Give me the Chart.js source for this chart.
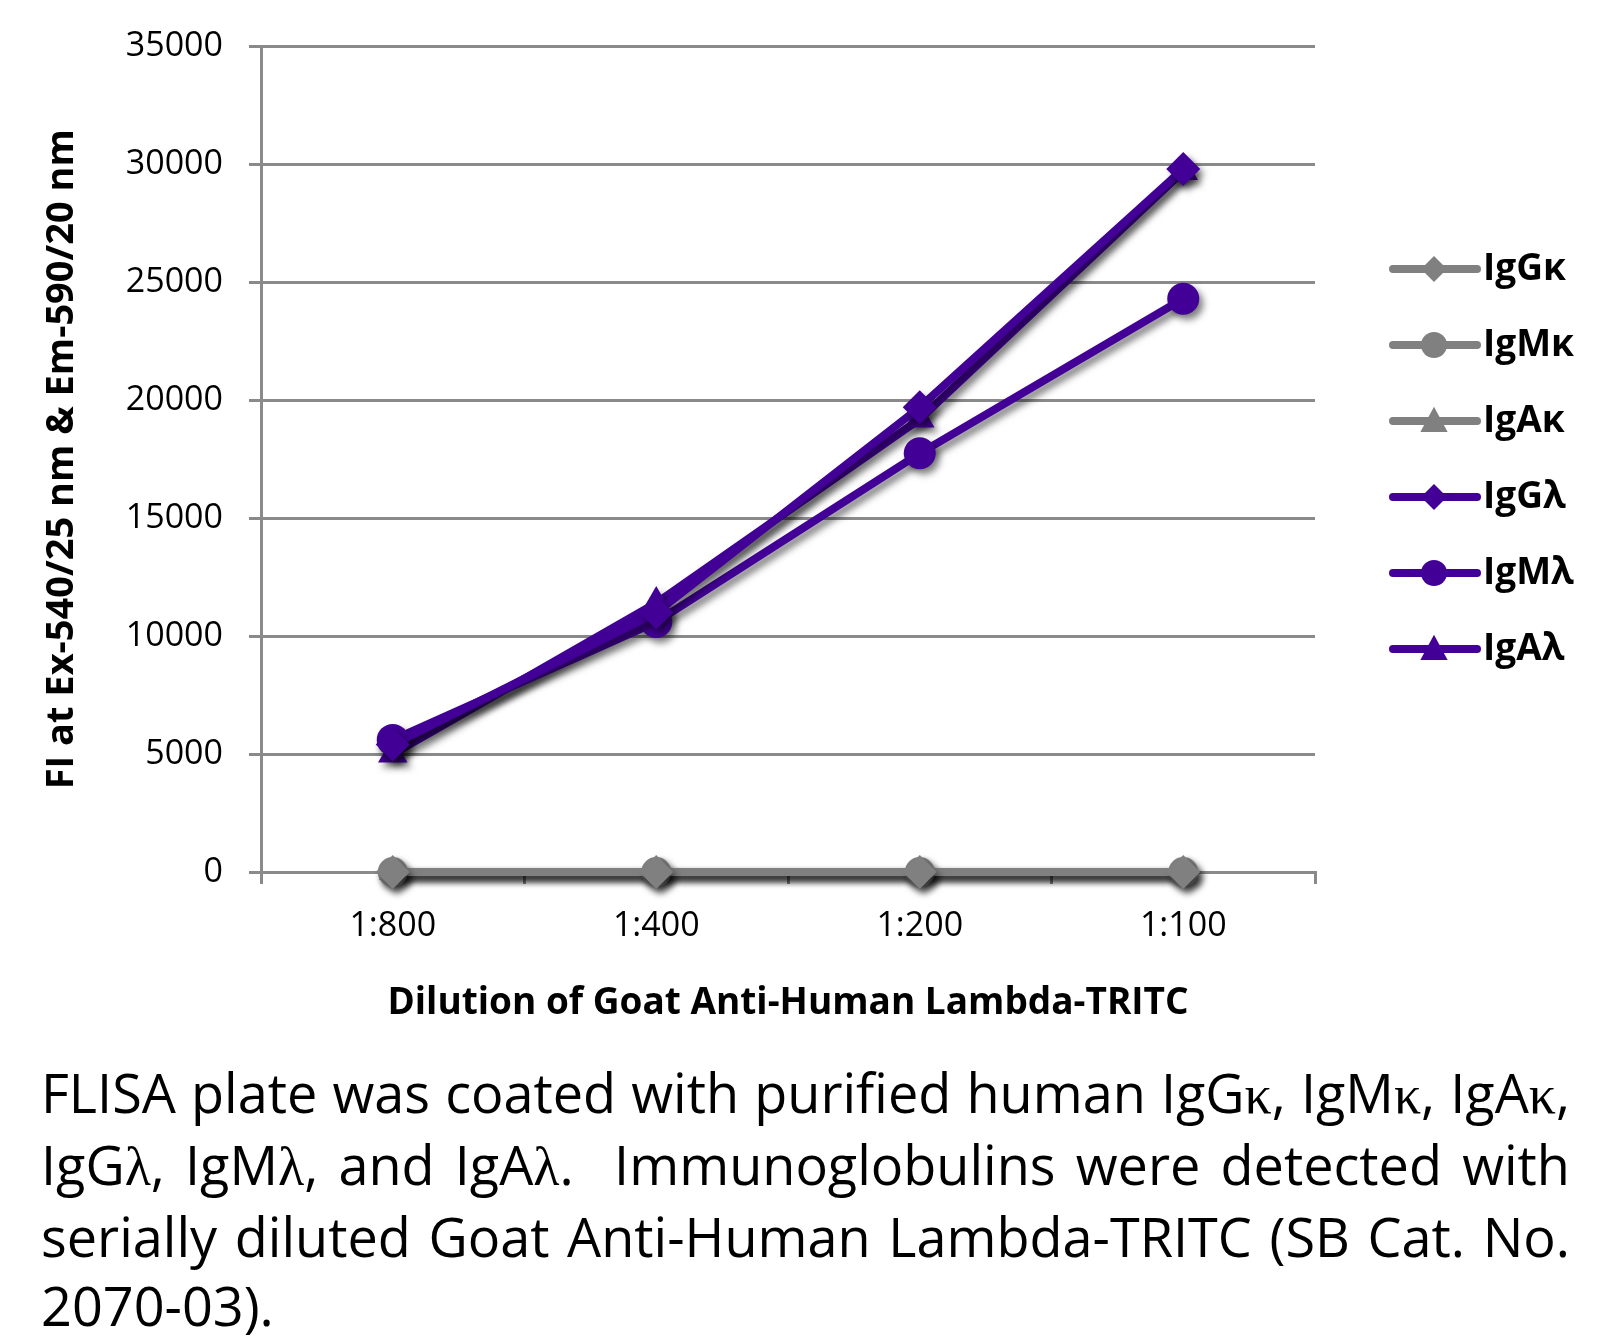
<!DOCTYPE html>
<html>
<head>
<meta charset="utf-8">
<script src="https://cdn.jsdelivr.net/npm/chart.js@4.4.0/dist/chart.umd.min.js"></script>
<style>
  body { margin: 0; background: #fff; font-family: "Open Sans", sans-serif; }
  #wrap { position: relative; width: 1604px; height: 1040px; }
  #caption { position: absolute; left: 41px; top: 1058px; width: 1529px; font-size: 54px; line-height: 69px; color: #000; }
  #caption div { white-space: nowrap; text-align: justify; text-align-last: justify; }
  #caption div.last { text-align-last: left; }
  .gk { font-family: "Liberation Serif", serif; }
</style>
</head>
<body>
<div id="wrap"><canvas id="flisaChart"></canvas></div>
<div id="caption">
  <div>FLISA plate was coated with purified human IgG<span class="gk">κ</span>, IgM<span class="gk">κ</span>, IgA<span class="gk">κ</span>,</div>
  <div>IgG<span class="gk">λ</span>, IgM<span class="gk">λ</span>, and IgA<span class="gk">λ</span>.&nbsp; Immunoglobulins were detected with</div>
  <div>serially diluted Goat Anti-Human Lambda-TRITC (SB Cat. No.</div>
  <div class="last">2070-03).</div>
</div>
<script>
// dilutions on the x axis
var dilutions = ['1:800', '1:400', '1:200', '1:100'];

// fluorescence values
var igGk = [0, 0, 0, 0];
var igMk = [0, 0, 0, 0];
var igAk = [0, 0, 0, 0];
var igGl = [5400, 11000, 19700, 29800];
var igMl = [5600, 10600, 17750, 24300];
var igAl = [5000, 11400, 19200, 29700];

var seriesNames = ['IgGκ', 'IgMκ', 'IgAκ', 'IgGλ', 'IgMλ', 'IgAλ'];

var gray = '#808080';
var purple = '#420096';

function makeSet(name, values, color, style, radius) {
    return {
        label: name,
        data: values,
        borderColor: color,
        backgroundColor: color,
        borderWidth: 8,
        pointStyle: style,
        pointRadius: radius,
        pointHoverRadius: radius,
        pointBorderWidth: 0,
        tension: 0,
        clip: false
    };
}

// drop shadow under the lines, like the original
var shadowPlugin = {
    id: 'shadow',
    beforeDatasetsDraw: function (chart) {
        var ctx = chart.ctx;
        ctx.save();
        ctx.shadowColor = 'rgba(0,0,0,0.5)';
        ctx.shadowBlur = 7;
        ctx.shadowOffsetX = 4;
        ctx.shadowOffsetY = 5;
    },
    afterDatasetsDraw: function (chart) {
        chart.ctx.restore();
    }
};

function drawMarker(ctx, style, x, y, r) {
    ctx.beginPath();
    if (style === 'circle') {
        ctx.arc(x, y, r, 0, Math.PI * 2);
    } else if (style === 'rectRot') {
        ctx.moveTo(x, y - r);
        ctx.lineTo(x + r, y);
        ctx.lineTo(x, y + r);
        ctx.lineTo(x - r, y);
    } else {
        ctx.moveTo(x, y - r * 1.1);
        ctx.lineTo(x + r * 1.05, y + r * 0.85);
        ctx.lineTo(x - r * 1.05, y + r * 0.85);
    }
    ctx.closePath();
    ctx.fill();
}

// legend on the right: line with marker, then label
var legendPlugin = {
    id: 'sideLegend',
    afterDraw: function (chart) {
        var ctx = chart.ctx;
        ctx.save();
        chart.data.datasets.forEach(function (ds, i) {
            var y = 269 + i * 76;
            ctx.strokeStyle = ds.borderColor;
            ctx.fillStyle = ds.borderColor;
            ctx.lineWidth = 8;
            ctx.lineCap = 'round';
            ctx.beginPath();
            ctx.moveTo(1393, y);
            ctx.lineTo(1477, y);
            ctx.stroke();
            drawMarker(ctx, ds.pointStyle, 1434, y, 13);
            ctx.fillStyle = '#000';
            ctx.font = 'bold 37px "Open Sans"';
            ctx.textBaseline = 'middle';
            ctx.fillText(ds.label, 1483, y);
        });
        ctx.restore();
    }
};

var config = {
    type: 'line',
    data: {
        labels: dilutions,
        datasets: [
            makeSet(seriesNames[0], igGk, gray, 'rectRot', 17),
            makeSet(seriesNames[1], igMk, gray, 'circle', 15),
            makeSet(seriesNames[2], igAk, gray, 'triangle', 16),
            makeSet(seriesNames[3], igGl, purple, 'rectRot', 17),
            makeSet(seriesNames[4], igMl, purple, 'circle', 16),
            makeSet(seriesNames[5], igAl, purple, 'triangle', 17)
        ]
    },
    options: {
        responsive: false,
        animation: false,
        layout: { padding: { top: 46, right: 289, bottom: 0, left: 0 } },
        plugins: {
            legend: { display: false },
            tooltip: { enabled: false }
        },
        scales: {
            x: {
                offset: true,
                afterFit: function (scale) { scale.height = 168; },
                grid: { drawOnChartArea: false, offset: true, color: '#8a8a8a', lineWidth: 3, tickLength: 12 },
                border: { color: '#8a8a8a', width: 3 },
                ticks: { color: '#000', padding: 22, font: { family: 'Open Sans', size: 34 } },
                title: {
                    display: true,
                    text: 'Dilution of Goat Anti-Human Lambda-TRITC',
                    color: '#000',
                    font: { family: 'Open Sans', size: 37, weight: 'bold' },
                    padding: { top: 0, bottom: 14 }
                }
            },
            y: {
                min: 0,
                max: 35000,
                afterFit: function (scale) { scale.width = 261; },
                grid: { color: '#8a8a8a', lineWidth: 3, tickLength: 12 },
                border: { color: '#8a8a8a', width: 3 },
                ticks: {
                    stepSize: 5000,
                    color: '#000',
                    padding: 26,
                    font: { family: 'Open Sans', size: 34 },
                    callback: function (value) { return String(value); }
                },
                title: {
                    display: true,
                    text: 'FI at Ex-540/25 nm & Em-590/20 nm',
                    color: '#000',
                    font: { family: 'Open Sans', size: 38, weight: 'bold' },
                    padding: { top: 39, bottom: 0 }
                }
            }
        }
    },
    plugins: [shadowPlugin, legendPlugin]
};

var canvas = document.getElementById('flisaChart');
canvas.width = 1604;
canvas.height = 1040;
var ctx = canvas.getContext('2d');
window.flisaChart = new Chart(ctx, config);
</script>
</body>
</html>
